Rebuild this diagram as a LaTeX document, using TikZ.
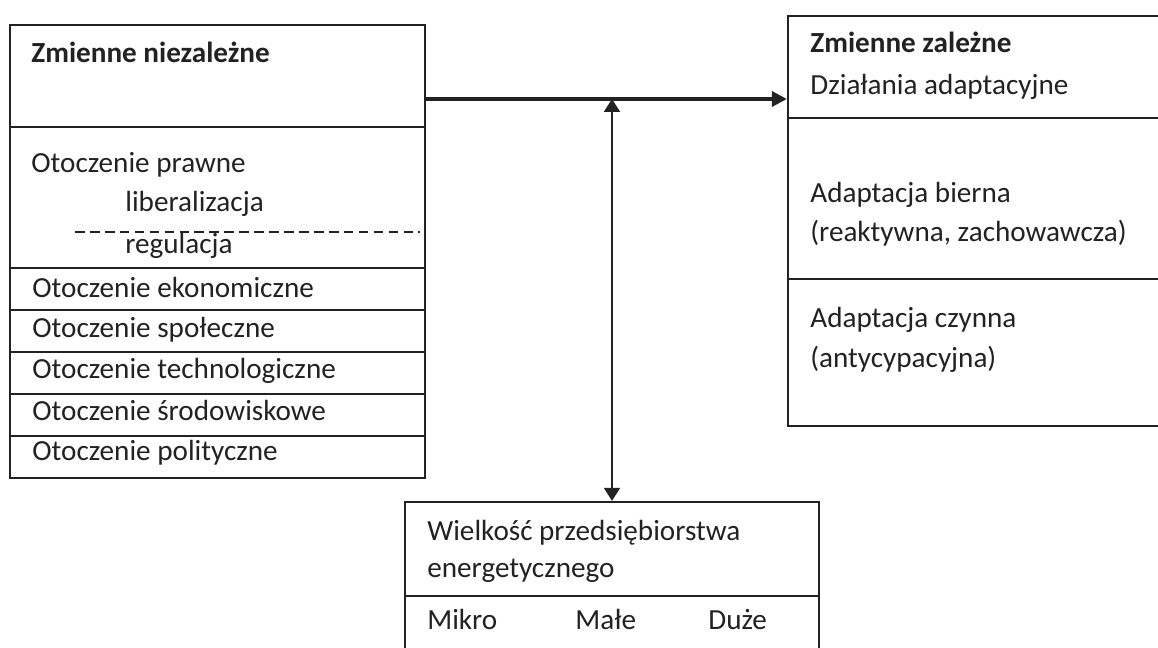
\documentclass[tikz,border=0pt]{standalone}
\usepackage{fontspec}
\setmainfont{Carlito}
\usepackage{tikz}
\usetikzlibrary{arrows.meta}
\usetikzlibrary{fit}
\definecolor{mline}{HTML}{222222}
\tikzset{mbox/.style={draw=mline,line width=1.3pt,inner sep=0pt}}
\tikzset{mtext/.style={anchor=base west,inner sep=0pt,text=mline,font=\fontsize{16.6}{20}\selectfont}}
\tikzset{mhead/.style={mtext,font=\fontsize{16.6}{20}\selectfont\bfseries}}
\tikzset{mdash/.style={draw=mline,line width=1.2pt,dash pattern=on 5.5pt off 3pt}}
\tikzset{marrow/.style={draw=mline,line width=2pt,-{Triangle[length=0.3cm,width=0.3cm]}}}
\tikzset{mdarrow/.style={draw=mline,line width=1.2pt,{Triangle[length=0.26cm,width=0.32cm]}-{Triangle[length=0.26cm,width=0.32cm]}}}

\begin{document}
\begin{tikzpicture}[x=0.02cm,y=-0.02cm]
\clip (0,0) rectangle (1158,648);
\fill[white] (0,0) rectangle (1158,648);

\node[mbox,fit={(10,25) (425,127)}] (niezal) {};
\node[mbox,fit={(10,127) (425,268)}] (prawne) {};
\node[mbox,fit={(10,268) (425,310)}] (ekon) {};
\node[mbox,fit={(10,310) (425,352)}] (spol) {};
\node[mbox,fit={(10,352) (425,394)}] (tech) {};
\node[mbox,fit={(10,394) (425,436)}] (srod) {};
\node[mbox,fit={(10,436) (425,478)}] (polit) {};
\draw[mdash] (75,232) -- (420,232);

\node[mhead] (niezaltxt) at (31,63) {Zmienne niezależne};
\node[mtext] (prawnetxt) at (31,173) {Otoczenie prawne};
\node[mtext] (libtxt) at (125,212) {liberalizacja};
\node[mtext] (regtxt) at (125,254) {regulacja};
\node[mtext] (ekontxt) at (32,297) {Otoczenie ekonomiczne};
\node[mtext] (spoltxt) at (32,337) {Otoczenie społeczne};
\node[mtext] (techtxt) at (32,378) {Otoczenie technologiczne};
\node[mtext] (srodtxt) at (32,420) {Otoczenie środowiskowe};
\node[mtext] (polittxt) at (32,460) {Otoczenie polityczne};

\node[mbox,fit={(788,16) (1170,118)}] (zal) {};
\node[mbox,fit={(788,118) (1170,279)}] (bierna) {};
\node[mbox,fit={(788,279) (1170,426)}] (czynna) {};

\node[mhead] (zaltxt) at (810,53) {Zmienne zależne};
\node[mtext] (dzialtxt) at (810,95) {Działania adaptacyjne};
\node[mtext] (biernatxt) at (810,203) {Adaptacja bierna};
\node[mtext] (reaktxt) at (810,242) {(reaktywna, zachowawcza)};
\node[mtext] (czynnatxt) at (810,327) {Adaptacja czynna};
\node[mtext] (antytxt) at (810,367) {(antycypacyjna)};

\node[mbox,fit={(405,502) (819,596)}] (wielk) {};
\node[mbox,fit={(405,596) (819,660)}] (rozm) {};

\node[mtext] (wielktxt) at (427,540) {Wielkość przedsiębiorstwa};
\node[mtext] (energtxt) at (427,577) {energetycznego};
\node[mtext] (mikro) at (427,629) {Mikro};
\node[mtext] (male) at (575,629) {Małe};
\node[mtext] (duze) at (708,629) {Duże};

\coordinate (hs) at (425,99);
\draw[marrow] (hs) -- (zal.west |- hs);
\draw[mdarrow] (wielk.north) -- (wielk.north |- hs);

\end{tikzpicture}
\end{document}
